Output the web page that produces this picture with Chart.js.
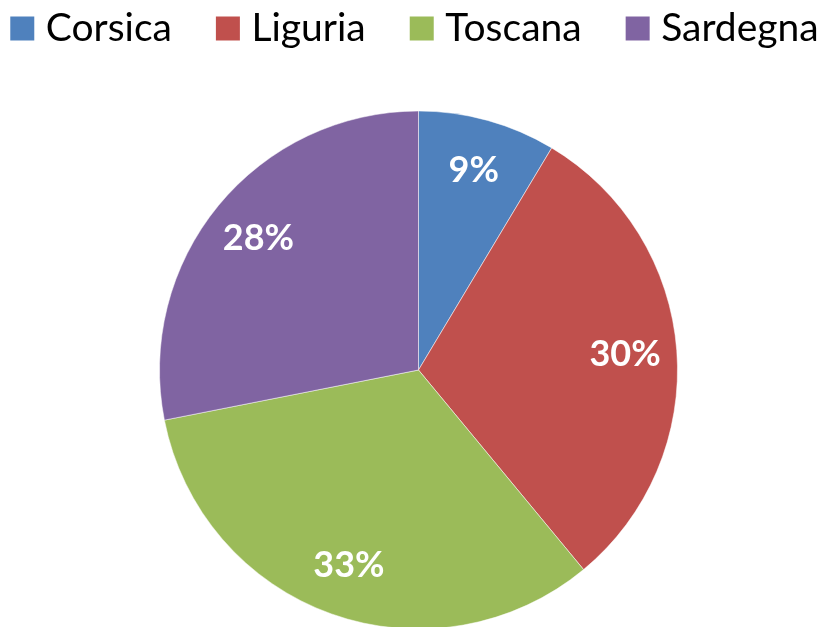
<!DOCTYPE html>
<html>
<head>
<meta charset="utf-8">
<script src="https://cdn.jsdelivr.net/npm/chart.js@4/dist/chart.umd.min.js"></script>
<style>
  html, body { margin: 0; padding: 0; background: #fff; overflow: hidden; }
  body { width: 827px; height: 627px; position: relative; }
  #wrap { width: 937px; height: 682px; position: absolute; left: -50px; top: 0; }
</style>
</head>
<body>
<div id="wrap"><canvas id="c"></canvas></div>
<script>
const categories = ["Corsica", "Liguria", "Toscana", "Sardegna"];
const values = [8.6, 30.4, 32.9, 28.1];
const colors = ["#4F81BD", "#C0504D", "#9BBB59", "#8064A2"];

const pieLabels = {
  id: 'pieLabels',
  afterDatasetsDraw(chart) {
    const ctx = chart.ctx;
    const meta = chart.getDatasetMeta(0);
    const total = values.reduce((a, b) => a + b, 0);
    ctx.save();
    ctx.fillStyle = '#ffffff';
    ctx.font = 'bold 36px Lato';
    ctx.textAlign = 'center';
    ctx.textBaseline = 'middle';
    meta.data.forEach((arc, i) => {
      const p = arc.getProps(['x', 'y', 'startAngle', 'endAngle', 'outerRadius'], true);
      const mid = (p.startAngle + p.endAngle) / 2;
      const r = p.outerRadius * 0.8;
      const txt = Math.round(values[i] / total * 100) + '%';
      ctx.fillText(txt, p.x + Math.cos(mid) * r, p.y + Math.sin(mid) * r);
    });
    ctx.restore();
  }
};

new Chart(document.getElementById('c'), {
  type: 'pie',
  data: {
    labels: categories,
    datasets: [{
      data: values,
      backgroundColor: colors,
      borderColor: 'rgba(255,255,255,0.5)',
      borderWidth: 1,
      radius: 259
    }]
  },
  options: {
    responsive: true,
    maintainAspectRatio: false,
    animation: false,
    layout: { padding: { left: 0, right: 0, top: -43, bottom: 0 } },
    plugins: {
      tooltip: { enabled: false },
      legend: {
        position: 'top',
        labels: {
          usePointStyle: true,
          pointStyle: 'rect',
          boxWidth: 8,
          boxHeight: 24,
          padding: 52,
          color: '#000',
          font: { family: 'Lato', size: 39 },
          generateLabels: () => categories.map((t, i) => ({
            text: t, fillStyle: colors[i], strokeStyle: colors[i],
            lineWidth: 0, pointStyle: 'rect', hidden: false, index: i, fontColor: '#000'
          }))
        }
      }
    }
  },
  plugins: [pieLabels]
});
</script>
</body>
</html>
